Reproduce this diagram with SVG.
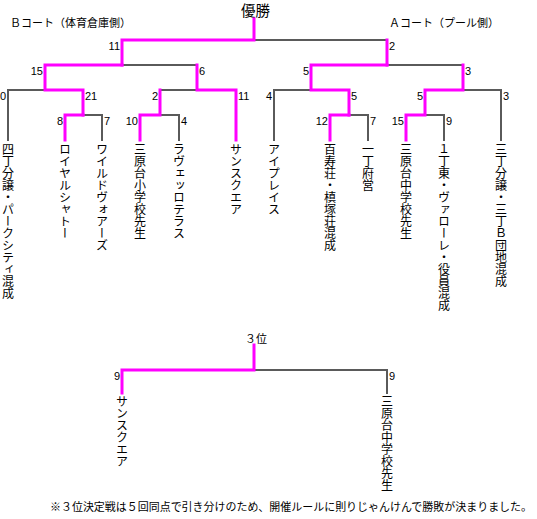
<svg xmlns="http://www.w3.org/2000/svg" width="537" height="519" viewBox="0 0 537 519">
<style>
.bg{fill:#fff}
.g{fill:none;stroke:#5a5a5a;stroke-width:2;stroke-linecap:square}
.m{fill:none;stroke:#ff00ff;stroke-width:3;stroke-linecap:square}
text{font-family:"Noto Sans CJK JP","Liberation Sans",sans-serif;fill:#000}
.n{font-family:"Liberation Sans","Noto Sans CJK JP",sans-serif;font-size:11px}
.l{text-anchor:end}
.v{font-size:12px;writing-mode:vertical-rl;text-orientation:upright}
.h{font-size:11px}
</style>
<rect class="bg" x="0" y="0" width="537" height="519"/>
<g id="titles">
<text x="241" y="16" style="font-size:14.5px">優勝</text>
<text class="h" x="10" y="27">Ｂコート（体育倉庫側）</text>
<text class="h" x="389" y="27">Ａコート（プール側）</text>
<text class="h" x="245" y="343">３位</text>
<text class="h" x="532" y="511" text-anchor="end" textLength="482" lengthAdjust="spacingAndGlyphs">※３位決定戦は５回同点で引き分けのため、開催ルールに則りじゃんけんで勝敗が決まりました。</text>
</g>
<g id="connectors">
<path class="g" d="M254,40 H387"/>
<path class="g" d="M122,65 H197"/>
<path class="g" d="M8,140 V90 H45"/>
<path class="g" d="M83,115 H102 V140"/>
<path class="g" d="M160,90 H197"/>
<path class="g" d="M160,115 H179 V140"/>
<path class="g" d="M387,65 H463"/>
<path class="g" d="M274,140 V90 H311"/>
<path class="g" d="M349,115 H368 V140"/>
<path class="g" d="M463,90 H501 V140"/>
<path class="g" d="M425,115 H444 V140"/>
<path class="g" d="M254,370 H387 V393"/>
<path class="m" d="M254,19 V40 H122 V65"/>
<path class="m" d="M387,40 V65"/>
<path class="m" d="M122,65 H45 V90 H83 V115"/>
<path class="m" d="M197,65 V90 H236 V140"/>
<path class="m" d="M65,140 V115 H83"/>
<path class="m" d="M160,90 V115 H140 V140"/>
<path class="m" d="M387,65 H311 V90 H349 V115"/>
<path class="m" d="M330,140 V115 H349"/>
<path class="m" d="M463,65 V90 H425 V115 H406 V140"/>
<path class="m" d="M254,345 V370 H122 V393"/>
</g>
<g id="scores">
<text class="n l" x="120" y="50">11</text>
<text class="n" x="389" y="50">2</text>
<text class="n l" x="43" y="75">15</text>
<text class="n" x="199" y="75">6</text>
<text class="n l" x="309" y="75">5</text>
<text class="n" x="465" y="75">3</text>
<text class="n l" x="6" y="100">0</text>
<text class="n" x="85" y="100">21</text>
<text class="n l" x="158" y="100">2</text>
<text class="n" x="238" y="100">11</text>
<text class="n l" x="272" y="100">4</text>
<text class="n" x="351" y="100">5</text>
<text class="n l" x="423" y="100">5</text>
<text class="n" x="503" y="100">3</text>
<text class="n l" x="63" y="125">8</text>
<text class="n" x="104" y="125">7</text>
<text class="n l" x="138" y="125">10</text>
<text class="n" x="181" y="125">4</text>
<text class="n l" x="328" y="125">12</text>
<text class="n" x="370" y="125">7</text>
<text class="n l" x="404" y="125">15</text>
<text class="n" x="446" y="125">9</text>
<text class="n l" x="120" y="380">9</text>
<text class="n" x="389" y="380">9</text>
</g>
<g id="team-b1"><text class="v" x="8" y="143">四丁分譲・パークシティ混成</text></g>
<g id="team-b2"><text class="v" x="65" y="143">ロイヤルシャトー</text></g>
<g id="team-b3"><text class="v" x="102" y="143">ワイルドヴォアーズ</text></g>
<g id="team-b4"><text class="v" x="140" y="143">三原台小学校先生</text></g>
<g id="team-b5"><text class="v" x="179" y="143">ラヴェッロテラス</text></g>
<g id="team-b6"><text class="v" x="236" y="143">サンスクエア</text></g>
<g id="team-a1"><text class="v" x="274" y="143">アイプレイス</text></g>
<g id="team-a2"><text class="v" x="330" y="143">百寿荘・槙塚荘混成</text></g>
<g id="team-a3"><text class="v" x="368" y="143">一丁府営</text></g>
<g id="team-a4"><text class="v" x="406" y="143">三原台中学校先生</text></g>
<g id="team-a5"><text class="v" x="444" y="143">１丁東・ヴァローレ・役員混成</text></g>
<g id="team-a6"><text class="v" x="501" y="143">三丁分譲・三丁Ｂ団地混成</text></g>
<g id="third-1"><text class="v" x="122" y="395">サンスクエア</text></g>
<g id="third-2"><text class="v" x="387" y="395">三原台中学校先生</text></g>
</svg>
